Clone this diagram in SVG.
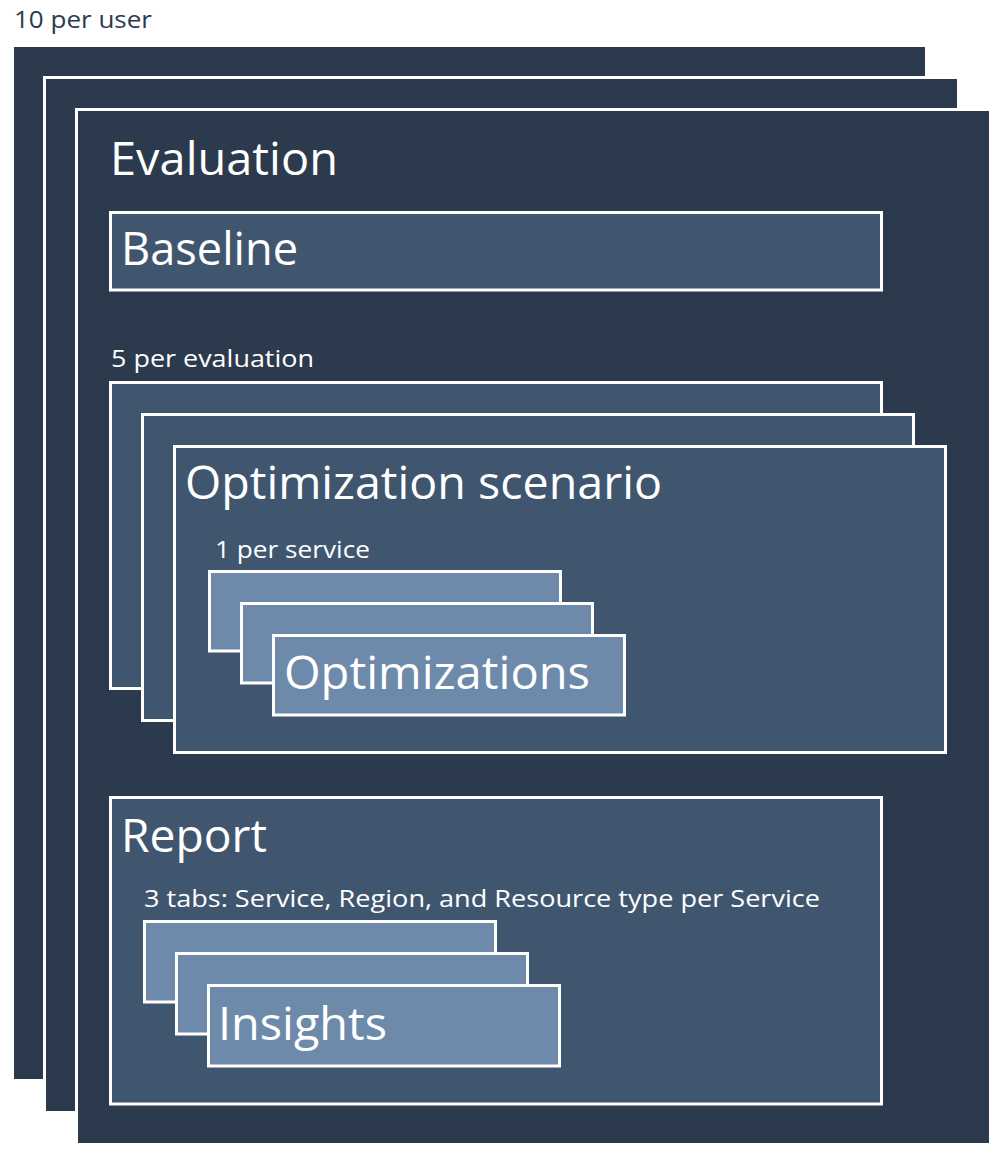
<svg xmlns="http://www.w3.org/2000/svg" width="1005" height="1158" viewBox="0 0 1005 1158">
  <style>
    .dark { fill: #2c3a4e; stroke: #ffffff; stroke-width: 3; }
    .mid { fill: #40566f; stroke: #ffffff; stroke-width: 3; }
    .light { fill: #6e8aab; stroke: #ffffff; stroke-width: 3; }
    text { font-family: "Open Sans", "Liberation Sans", sans-serif; }
    .title { font-size: 45px; fill: #ffffff; }
    .note { font-size: 24px; fill: #ffffff; }
    .note-dark { font-size: 24px; fill: #2c3a4e; }
  </style>

  <!-- Evaluation stack: 10 per user -->
  <g id="evaluation">
    <text class="note-dark" x="14" y="28" textLength="138" lengthAdjust="spacingAndGlyphs">10 per user</text>
    <rect class="dark" x="12.5" y="45.5" width="914" height="1035"/>
    <rect class="dark" x="44.5" y="77.5" width="914" height="1035"/>
    <rect class="dark" x="76.5" y="109.5" width="914" height="1035"/>
    <text class="title" x="110" y="175" textLength="228" lengthAdjust="spacingAndGlyphs">Evaluation</text>
  </g>

  <!-- Baseline -->
  <g id="baseline">
    <rect class="mid" x="110.5" y="212.5" width="771" height="77.5"/>
    <text class="title" x="121" y="265" textLength="177" lengthAdjust="spacingAndGlyphs">Baseline</text>
  </g>

  <!-- Optimization scenario stack: 5 per evaluation -->
  <g id="optimization-scenario">
    <text class="note" x="111" y="367" textLength="203" lengthAdjust="spacingAndGlyphs">5 per evaluation</text>
    <rect class="mid" x="110.5" y="382.5" width="771" height="306"/>
    <rect class="mid" x="142.5" y="414.5" width="771" height="306"/>
    <rect class="mid" x="174.5" y="446.5" width="771" height="306"/>
    <text class="title" x="185" y="499" textLength="477" lengthAdjust="spacingAndGlyphs">Optimization scenario</text>
  </g>

  <!-- Optimizations stack: 1 per service -->
  <g id="optimizations">
    <text class="note" x="215" y="558" textLength="155" lengthAdjust="spacingAndGlyphs">1 per service</text>
    <rect class="light" x="209.5" y="571.5" width="351" height="79.5"/>
    <rect class="light" x="241.5" y="603.5" width="351" height="79.5"/>
    <rect class="light" x="273.5" y="635.5" width="351" height="79.5"/>
    <text class="title" x="284" y="689" textLength="306" lengthAdjust="spacingAndGlyphs">Optimizations</text>
  </g>

  <!-- Report -->
  <g id="report">
    <rect class="mid" x="110.5" y="797.5" width="771" height="306.5"/>
    <text class="title" x="121" y="852" textLength="146" lengthAdjust="spacingAndGlyphs">Report</text>
    <text class="note" x="144" y="907" textLength="676" lengthAdjust="spacingAndGlyphs">3 tabs: Service, Region, and Resource type per Service</text>
  </g>

  <!-- Insights stack -->
  <g id="insights">
    <rect class="light" x="144.5" y="921.5" width="351" height="80.5"/>
    <rect class="light" x="176.5" y="953.5" width="351" height="80.5"/>
    <rect class="light" x="208.5" y="985.5" width="351" height="80.5"/>
    <text class="title" x="218" y="1040" textLength="169" lengthAdjust="spacingAndGlyphs">Insights</text>
  </g>

  <!-- no connectors in this diagram -->
  <g id="connectors"/>
</svg>
